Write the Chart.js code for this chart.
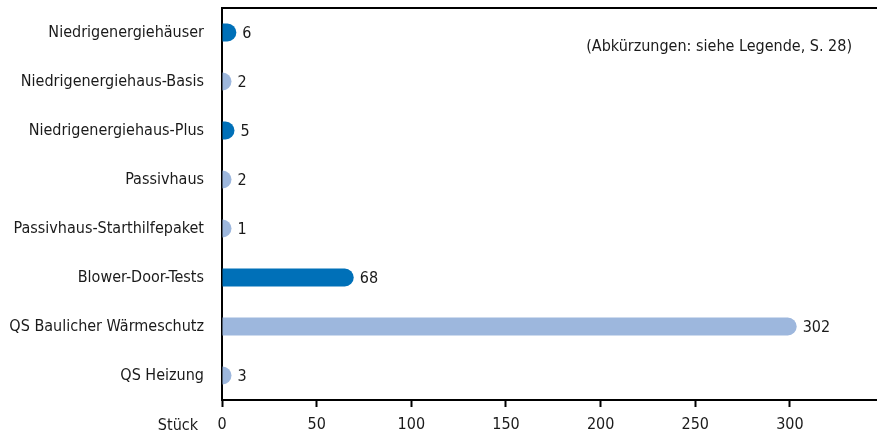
<!DOCTYPE html>
<html>
<head>
<meta charset="utf-8">
<script src="https://cdn.jsdelivr.net/npm/chart.js@4"></script>
<style>
  html, body { margin: 0; padding: 0; background: #fff; }
  canvas { display: block; }
</style>
</head>
<body>
<canvas id="chart" width="877" height="437"></canvas>
<script>
const categories = [
    'Niedrigenergiehäuser',
    'Niedrigenergiehaus-Basis',
    'Niedrigenergiehaus-Plus',
    'Passivhaus',
    'Passivhaus-Starthilfepaket',
    'Blower-Door-Tests',
    'QS Baulicher Wärmeschutz',
    'QS Heizung'
];
const counts = [6, 2, 5, 2, 1, 68, 302, 3];
const barColors = ['#0070b8', '#9db7dd', '#0070b8', '#9db7dd', '#9db7dd', '#0070b8', '#9db7dd', '#9db7dd'];
const xTicks = [0, 50, 100, 150, 200, 250, 300];
const unitLabel = 'Stück';
const note = '(Abkürzungen: siehe Legende, S. 28)';

const FONT = '"Liberation Sans Narrow", "DejaVu Sans Condensed", sans-serif';

// bars with a round cap on the right, value next to it
const roundBars = {
    id: 'roundBars',
    beforeDatasetDraw(chart) {
        const ctx = chart.ctx;
        const meta = chart.getDatasetMeta(0);
        ctx.save();
        meta.data.forEach((bar, i) => {
            const r = bar.height / 2;
            const end = Math.max(bar.x + 3, bar.base + r);
            ctx.fillStyle = barColors[i];
            ctx.beginPath();
            ctx.moveTo(bar.base, bar.y - r);
            ctx.lineTo(end - r, bar.y - r);
            ctx.arc(end - r, bar.y, r, -Math.PI / 2, Math.PI / 2);
            ctx.lineTo(bar.base, bar.y + r);
            ctx.closePath();
            ctx.fill();

            ctx.fillStyle = '#1a1a1a';
            ctx.font = '16px ' + FONT;
            ctx.textAlign = 'left';
            ctx.textBaseline = 'middle';
            ctx.fillText(counts[i], end + 6, bar.y + 1);
        });
        ctx.restore();
        return false;
    },
    afterDraw(chart) {
        const ctx = chart.ctx;
        const a = chart.chartArea;
        ctx.save();
        // top frame line
        ctx.strokeStyle = '#000';
        ctx.lineWidth = 2;
        ctx.beginPath();
        ctx.moveTo(a.left - 1, a.top);
        ctx.lineTo(a.right, a.top);
        ctx.stroke();

        ctx.fillStyle = '#1a1a1a';
        ctx.font = '16px ' + FONT;
        ctx.textBaseline = 'middle';
        ctx.textAlign = 'right';
        ctx.fillText(unitLabel, 198, 426);
        ctx.fillText(note, 852, 47);
        ctx.restore();
    }
};

new Chart(document.getElementById('chart'), {
    type: 'bar',
    data: {
        labels: categories,
        datasets: [{
            data: counts,
            backgroundColor: barColors,
            barThickness: 18
        }]
    },
    options: {
        indexAxis: 'y',
        responsive: false,
        animation: false,
        layout: { padding: { top: 8, right: 0, left: 0, bottom: 0 } },
        plugins: {
            legend: { display: false },
            tooltip: { enabled: false }
        },
        scales: {
            x: {
                min: 0,
                max: 346,
                afterBuildTicks: axis => {
                    axis.ticks = xTicks.map(v => ({ value: v }));
                },
                afterFit: axis => {
                    axis.height = 37;
                    axis.paddingLeft = 0;
                    axis.paddingRight = 0;
                },
                grid: {
                    drawOnChartArea: false,
                    drawTicks: true,
                    tickLength: 7,
                    tickWidth: 2,
                    color: '#000'
                },
                border: { display: true, color: '#000', width: 2 },
                ticks: {
                    color: '#1a1a1a',
                    font: { family: FONT, size: 16 },
                    padding: 8,
                    maxRotation: 0
                }
            },
            y: {
                afterFit: axis => {
                    axis.width = 222;
                    axis.paddingTop = 0;
                    axis.paddingBottom = 0;
                },
                grid: { display: false },
                border: { display: true, color: '#000', width: 2 },
                ticks: {
                    color: '#1a1a1a',
                    font: { family: FONT, size: 16 },
                    padding: 10
                }
            }
        }
    },
    plugins: [roundBars]
});
</script>
</body>
</html>
